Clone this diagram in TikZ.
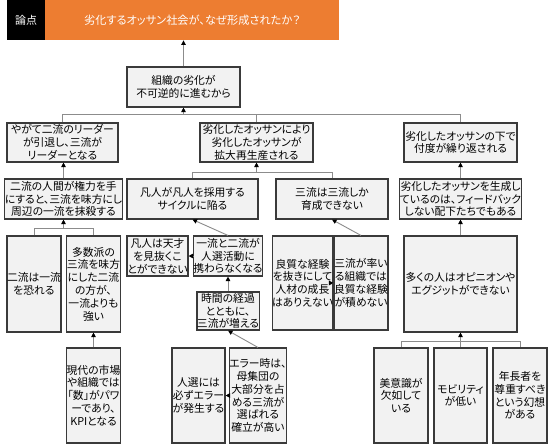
\documentclass[tikz,border=0pt]{standalone}
\usepackage{fontspec}
\newfontfamily\jp{Noto Sans CJK JP}[RawFeature=+palt]
\usetikzlibrary{arrows.meta}
\definecolor{boxfill}{HTML}{F2F2F2}
\definecolor{boxline}{HTML}{3A3A3A}
\definecolor{connline}{HTML}{8C8C8C}
\definecolor{headorange}{HTML}{ED7D31}
\tikzset{
  box/.style={draw=boxline, fill=boxfill, line width=1.1pt, inner sep=0pt, align=center,
    font=\jp\fontsize{10.8}{12.8}\selectfont},
  conn/.style={draw=connline, line width=0.9pt},
  arr/.style={conn, -{Triangle[length=4.5pt,width=4.5pt,black]}},
}
\newcommand\bx[6]{\node[box, minimum width={#4-#2}, minimum height={#5-#3}] (#1) at ({(#2+#4)/2},{(#3+#5)/2}) {#6};}
\begin{document}
\begin{tikzpicture}[x=1pt,y=-1pt]
\useasboundingbox[fill=white] (0,0) rectangle (552,445);
% header
\node[fill=black, text=white, inner sep=0pt, minimum width=38, minimum height=40, anchor=north west,
  font=\jp\fontsize{11}{12}\selectfont] (hdrlabel) at (7,0) {論点};
\node[fill=headorange, text=white, inner sep=0pt, minimum width=294, minimum height=40, anchor=north west,
  font=\jp\fontsize{11.2}{12}\selectfont] (hdr) at (45,0) {劣化するオッサン社会が、なぜ形成されたか？};
% boxes
\bx{root}{127}{67}{240}{107}{組織の劣化が\\不可逆的に進むから}
\bx{l2a}{7}{123}{118}{162}{やがて二流のリーダー\\が引退し、三流が\\リーダーとなる}
\bx{l2b}{200}{123}{313}{162}{劣化したオッサンにより\\劣化したオッサンが\\拡大再生産される}
\bx{l2c}{404}{123}{517}{162}{劣化したオッサンの下で\\付度が繰り返される}
\bx{l3a}{7}{179}{120}{219}{二流の人間が権力を手\\にすると、三流を味方にし\\周辺の一流を抹殺する}
\bx{l3b}{127}{179}{258}{219}{凡人が凡人を採用する\\サイクルに陥る}
\bx{l3c}{276}{179}{388}{219}{三流は三流しか\\育成できない}
\bx{l3d}{404}{179}{517}{219}{劣化したオッサンを生成し\\ているのは、フィードバック\\しない配下たちでもある}
\bx{l4a1}{7}{236}{61}{332}{二流は一流\\を恐れる}
\bx{l4a2}{67}{236}{120}{332}{多数派の\\三流を味方\\にした二流\\の方が、\\一流よりも\\強い}
\bx{l5a}{67}{348}{120}{443}{現代の市場\\や組織では\\「数」がパワ\\ーであり、\\KPIとなる}
\bx{b1}{127}{236}{188}{276}{凡人は天才\\を見抜くこ\\とができない}
\bx{b2}{197}{236}{259}{276}{一流と二流が\\人選活動に\\携わらなくなる}
\bx{b3}{197}{292}{259}{330}{時間の経過\\とともに、\\三流が増える}
\bx{b4}{172}{348}{225}{443}{人選には\\必ずエラー\\が発生する}
\bx{b5}{231}{348}{285}{443}{エラー時は、\\母集団の\\大部分を占\\める三流が\\選ばれる\\確立が高い}
\bx{c1}{276}{236}{329}{330}{良質な経験\\を抜きにして\\人材の成長\\はありえない}
\bx{c2}{334}{236}{388}{330}{三流が率い\\る組織では\\良質な経験\\が積めない}
\bx{d1}{404}{236}{517}{332}{多くの人はオピニオンや\\エグジットができない}
\bx{e1}{374}{348}{428}{443}{美意識が\\欠如して\\いる}
\bx{e2}{434}{348}{487}{443}{モビリティ\\が低い}
\bx{e3}{493}{348}{547}{443}{年長者を\\尊重すべき\\という幻想\\がある}
% connectors
\draw[arr] (root.north) -- (root.north |- hdr.south);
\coordinate (j1) at (183.5,114);
\draw[conn] (l2a.north) |- (l2c.north |- j1) -- (l2c.north);
\draw[conn] (l2b.north) -- (l2b.north |- j1);
\draw[arr] (j1) -- (root.south);
\draw[arr] (l3a.north) -- (l3a.north |- l2a.south);
\coordinate (j2) at (256.5,172);
\draw[conn] (l3b.north) |- (l3c.north |- j2) -- (l3c.north);
\draw[arr] (j2) -- (l2b.south);
\draw[arr] (l3d.north) -- (l2c.south);
\coordinate (j3) at (63.5,228);
\draw[conn] (l4a1.north) |- (l4a2.north |- j3) -- (l4a2.north);
\draw[arr] (j3) -- (l3a.south);
\draw[arr] (l5a.north) -- (l4a2.south);
\draw[arr] (b2.west) -- (b1.east);
\draw[arr] (b2.north) -- (l3b.south);
\draw[arr] (b3.north) -- (b2.south);
\draw[arr] (b5.west) -- (b4.east);
\draw[arr] (b5.north) -- (b3.south);
\draw[arr] (c2.west) -- (c1.east);
\draw[arr] (c2.north) -- (l3c.south);
\draw[arr] (d1.north) -- (l3d.south);
\coordinate (j4) at (460.5,341);
\draw[conn] (e1.north) |- (e3.north |- j4) -- (e3.north);
\draw[conn] (e2.north) -- (j4);
\draw[arr] (j4) -- (d1.south);
\end{tikzpicture}
\end{document}
